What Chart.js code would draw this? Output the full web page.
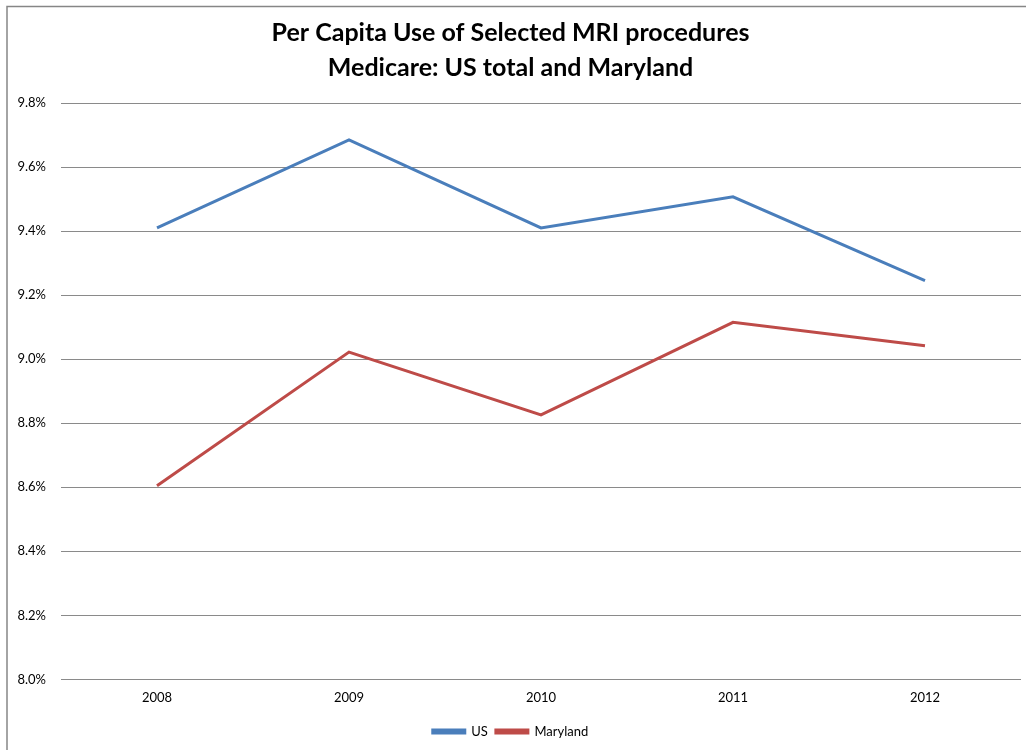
<!DOCTYPE html>
<html>
<head>
<meta charset="utf-8">
<script src="https://cdn.jsdelivr.net/npm/chart.js@4/dist/chart.umd.min.js"></script>
<style>
    html, body { margin: 0; padding: 0; background: #fff; }
    #wrap { position: relative; width: 1026px; height: 750px; }
</style>
</head>
<body>
<div id="wrap"><canvas id="chart" width="1026" height="750"></canvas></div>
<script>
// Data (percent)
const years = ['2008', '2009', '2010', '2011', '2012'];
const usValues = [9.41, 9.685, 9.41, 9.507, 9.245];
const marylandValues = [8.605, 9.022, 8.826, 9.115, 9.042];
const titleLines = ['Per Capita Use of Selected MRI procedures', 'Medicare: US total and Maryland'];

const FONT = 'Lato, "Open Sans", sans-serif';

// Excel-style frame: only the top and left edges are visible
const framePlugin = {
    id: 'frame',
    beforeDraw(chart) {
        const ctx = chart.ctx;
        ctx.save();
        ctx.strokeStyle = '#868686';
        ctx.lineWidth = 1.5;
        ctx.beginPath();
        ctx.moveTo(7, 750);
        ctx.lineTo(7, 6.5);
        ctx.lineTo(1026, 6.5);
        ctx.stroke();
        ctx.restore();
    }
};

new Chart(document.getElementById('chart'), {
    type: 'line',
    data: {
        labels: years,
        datasets: [
            {
                label: 'US',
                data: usValues,
                borderColor: '#4a7ebb',
                backgroundColor: '#4a7ebb',
                borderWidth: 3,
                pointRadius: 0,
                tension: 0,
            },
            {
                label: 'Maryland',
                data: marylandValues,
                borderColor: '#be4b48',
                backgroundColor: '#be4b48',
                borderWidth: 3,
                pointRadius: 0,
                tension: 0,
            },
        ],
    },
    options: {
        responsive: false,
        animation: false,
        layout: { padding: { left: 0, right: 5, top: 0, bottom: 2 } },
        plugins: {
            title: {
                display: true,
                text: titleLines,
                color: '#000',
                font: { family: FONT, size: 25, weight: 'bold', lineHeight: 1.38 },
                padding: { top: 16, bottom: 18 },
            },
            legend: {
                position: 'bottom',
                labels: {
                    color: '#000',
                    font: { family: FONT, size: 13 },
                    boxWidth: 32,
                    boxHeight: 3,
                    padding: 8,
                },
            },
            tooltip: { enabled: false },
        },
        scales: {
            x: {
                offset: true,
                grid: { display: false, drawTicks: false },
                border: { display: false },
                ticks: {
                    color: '#000',
                    font: { family: FONT, size: 13 },
                    padding: 11,
                },
            },
            y: {
                min: 8.0,
                max: 9.8,
                grid: { color: '#8a8a8a', lineWidth: 1, drawTicks: false },
                border: { display: false },
                ticks: {
                    stepSize: 0.2,
                    color: '#000',
                    font: { family: FONT, size: 13 },
                    padding: 15,
                    callback: (v) => v.toFixed(1) + '%',
                },
                afterFit(scale) {
                    scale.width = 61;
                },
            },
        },
    },
    plugins: [framePlugin],
});
</script>
</body>
</html>
